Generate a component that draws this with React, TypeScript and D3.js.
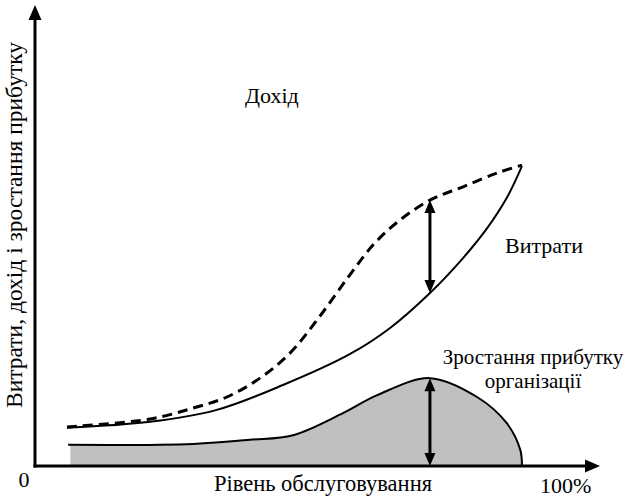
import React from 'react';
import * as d3 from 'd3';

// Service level (% of axis) vs. value (% of axis height)
const incomeX = [5.7, 20.5, 28.2, 34.2, 40.1, 45.5, 50.8, 56.1, 60.6, 65.1, 70.4, 76.3, 82.4, 86.8];
const incomeY = [8.5, 10.2, 12.6, 15, 19.1, 24.6, 32.6, 41.5, 48.5, 53.5, 57.8, 60.7, 63.7, 65.4];

const costX = [5.7, 20.5, 32.4, 44.2, 56.1, 63.3, 70.4, 76.3, 80.6, 84.1, 86.8];
const costY = [8.3, 9.6, 12.2, 17.6, 24.3, 30, 37.6, 45.2, 51.7, 58.3, 65.2];

const profitX = [5.9, 28.2, 38.3, 46, 54.9, 61, 70.4, 78.8, 84.1, 86.5, 86.8];
const profitY = [4.6, 4.8, 5.7, 6.7, 11.5, 15.4, 19.1, 15, 9.3, 3.5, 0];

// the two double arrows: x position, from value, to value
const arrowX = [70.4, 70.4];
const arrowFrom = [37.6, 0];
const arrowTo = [57.8, 19.1];

const W = 625;
const H = 499;
const FONT = "'Liberation Serif'";

const App: React.FC = () => {
  const x = d3.scaleLinear().domain([0, 100]).range([35, 596]);
  const y = d3.scaleLinear().domain([0, 100]).range([466, 6]);

  const toPts = (xs: number[], ys: number[]) => xs.map((v, i) => [v, ys[i]] as [number, number]);

  const line = d3
    .line<[number, number]>()
    .x((d) => x(d[0]))
    .y((d) => y(d[1]))
    .curve(d3.curveCatmullRom.alpha(0.5));

  const area = d3
    .area<[number, number]>()
    .x((d) => x(d[0]))
    .y0(y(0))
    .y1((d) => y(d[1]))
    .curve(d3.curveCatmullRom.alpha(0.5));

  const income = toPts(incomeX, incomeY);
  const cost = toPts(costX, costY);
  const profit = toPts(profitX, profitY);
  const profitFill = profit.map((d, i) => (i === 0 ? ([6.3, d[1]] as [number, number]) : d));

  const x0 = x(0);
  const y0 = y(0);
  const xEnd = x(100) + 4;
  const yEnd = y(100) - 1;

  const head = (px: number, py: number, dir: number) => {
    // dir: -1 pointing up, 1 pointing down
    const len = 13;
    const hw = 5.5;
    return `M${px},${py} L${px - hw},${py - dir * len} L${px + hw},${py - dir * len} Z`;
  };

  const txt = (size: number) => ({fontFamily: FONT, fontSize: `${size}px`});

  return (
    <svg
      width={W}
      height={H}
      fontFamily="Liberation Serif"
      style={{display: 'block', position: 'absolute', left: 0, top: 0}}
    >
      <rect width={W} height={H} fill="white" />

      {/* profit area */}
      <path d={area(profitFill) || ''} fill="#c0c0c0" stroke="none" />
      <path d={line(profit) || ''} fill="none" stroke="black" strokeWidth={2} />

      {/* cost */}
      <path d={line(cost) || ''} fill="none" stroke="black" strokeWidth={2} />

      {/* income */}
      <path
        d={line(income) || ''}
        fill="none"
        stroke="black"
        strokeWidth={3}
        strokeDasharray="10,6"
      />

      {/* double arrows */}
      {arrowX.map((ax, i) => {
        const px = x(ax);
        const top = y(arrowTo[i]);
        const bot = y(arrowFrom[i]);
        return (
          <g key={i}>
            <line x1={px} x2={px} y1={top + 6} y2={bot - 6} stroke="black" strokeWidth={3} />
            <path d={head(px, top, -1)} fill="black" />
            <path d={head(px, bot, 1)} fill="black" />
          </g>
        );
      })}

      {/* axes */}
      <line x1={x0} x2={x0} y1={y0 + 1.5} y2={yEnd + 10} stroke="black" strokeWidth={3} />
      <line x1={x0 - 1.5} x2={xEnd - 10} y1={y0} y2={y0} stroke="black" strokeWidth={3} />
      <path d={`M${x0},${yEnd} L${x0 - 6.5},${yEnd + 15} L${x0 + 6.5},${yEnd + 15} Z`} fill="black" />
      <path d={`M${xEnd},${y0} L${xEnd - 15},${y0 - 6.5} L${xEnd - 15},${y0 + 6.5} Z`} fill="black" />

      {/* texts */}
      <text x={24} y={487} textAnchor="middle" style={txt(22)}>0</text>
      <text x={323} y={491} textAnchor="middle" style={txt(22.5)}>Рівень обслуговування</text>
      <text x={540} y={493} style={txt(22)}>100%</text>
      <text x={245} y={103} style={txt(22)}>Дохід</text>
      <text x={505} y={253} style={txt(22)}>Витрати</text>
      <text x={533} y={364} textAnchor="middle" style={txt(21)}>Зростання прибутку</text>
      <text x={533} y={388} textAnchor="middle" style={txt(21)}>організації</text>
      <text transform="translate(22,225) rotate(-90)" textAnchor="middle" style={txt(23.5)}>
        Витрати, дохід і зростання прибутку
      </text>
    </svg>
  );
};

export default App;
